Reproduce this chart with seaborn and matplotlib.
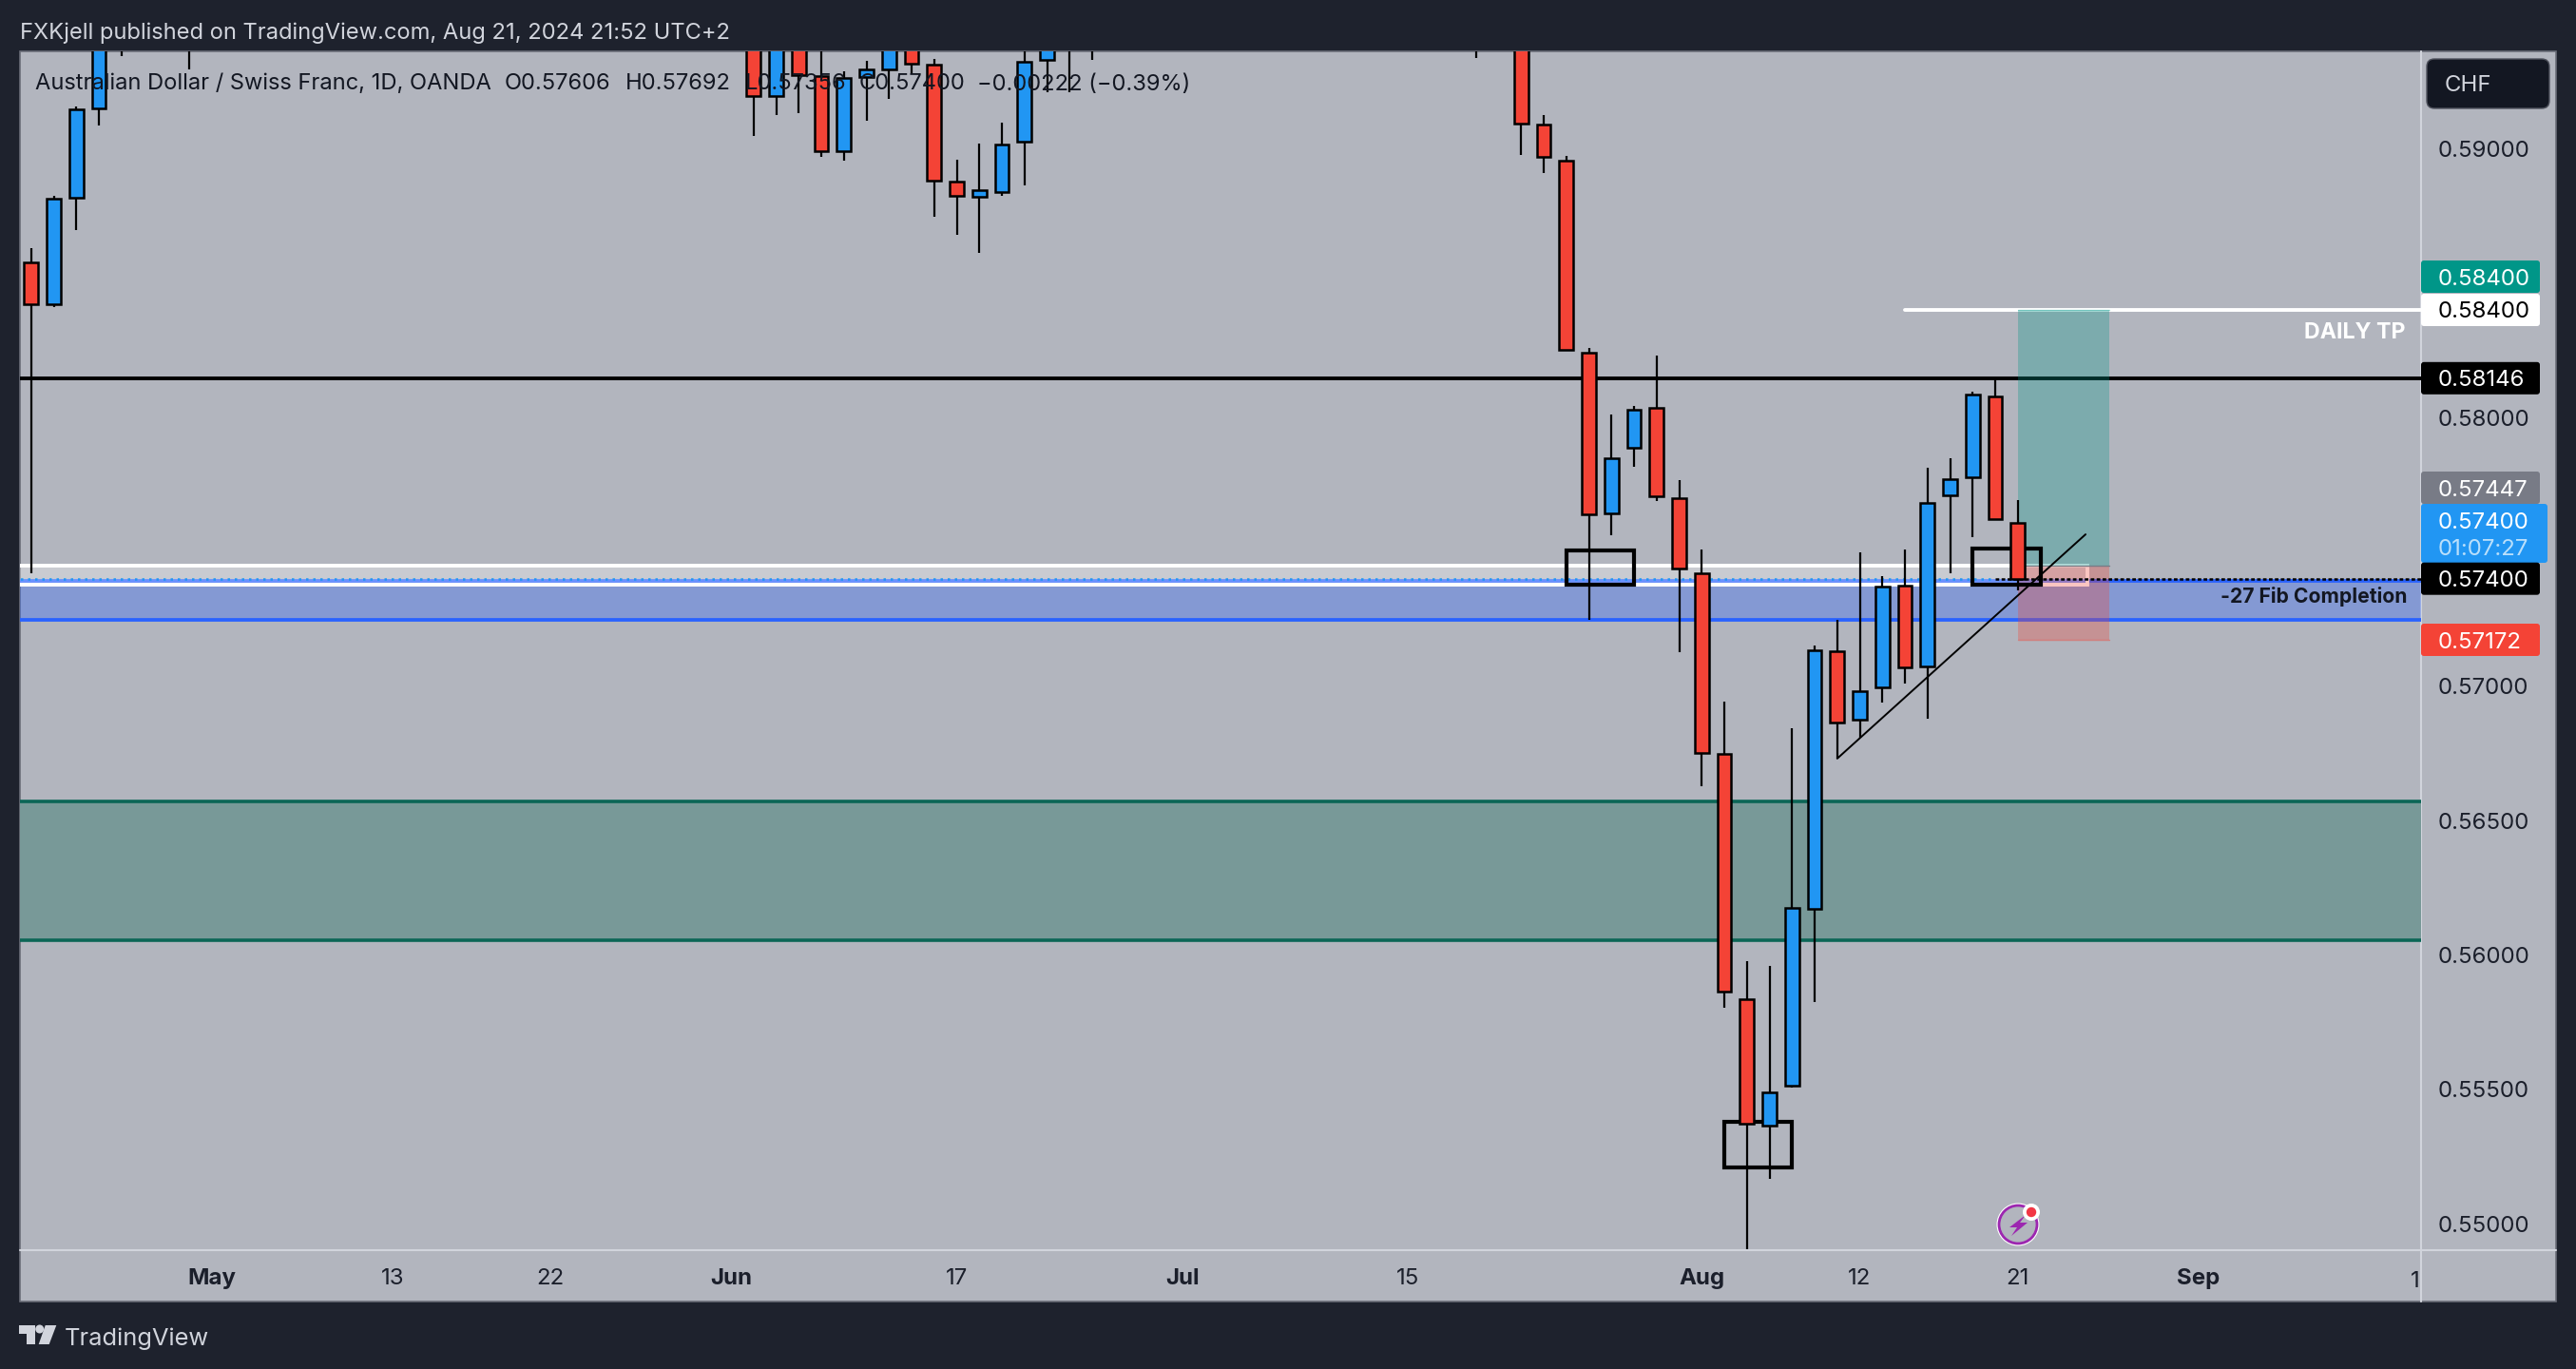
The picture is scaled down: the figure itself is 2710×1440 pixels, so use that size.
import matplotlib
matplotlib.use("Agg")
import matplotlib.pyplot as plt
from matplotlib.patches import Rectangle, FancyBboxPatch, Circle, Polygon
import pandas as pd
import seaborn as sns

# ---- data (bar offset from 21 Aug 2024, then OHLC) ----
bar_index = [-88, -87, -86, -85, -84, -81,
             -56, -55, -54, -53, -52, -51, -50, -49, -48, -47, -46, -45, -44, -43, -42, -41,
             -24, -22, -21, -20, -19, -18, -17, -16, -15, -14, -13, -12, -11, -10, -9, -8,
             -7, -6, -5, -4, -3, -2, -1, 0]
opens = [.58577, .58421, .58817, .59150, .59550, .59550,
         .59450, .59196, .59450, .59270, .58991, .59267, .59295, .59450, .59313, .58877, .58821, .58839, .59026, .59330, .59480, .59480,
         .59550, .59450, .59090, .58955, .58241, .57643, .57887, .58036, .57700, .57420, .56748, .55836, .55365, .55514, .56172, .57130,
         .56876, .56996, .57374, .57074, .57710, .57777, .58078, .57606]
highs = [.58630, .58824, .59157, .59500, .59700, .59700,
         .59500, .59500, .59500, .59450, .59288, .59327, .59500, .59500, .59334, .58959, .59019, .59097, .59450, .59500, .59600, .59600,
         .59700, .59500, .59125, .58973, .58259, .58011, .58043, .58230, .57767, .57509, .56943, .55977, .55960, .56844, .57151, .57247,
         .57498, .57410, .57509, .57813, .57848, .58096, .58146, .57692]
lows = [.57420, .58411, .58697, .59086, .59344, .59295,
        .59047, .59125, .59132, .58969, .58955, .59104, .59185, .59281, .58747, .58679, .58612, .58824, .58863, .59210, .59210, .59330,
        .59337, .58977, .58911, .58248, .57247, .57562, .57816, .57689, .57127, .56628, .55804, .54906, .55167, .55507, .55825, .56731,
        .56808, .56939, .57010, .56879, .57420, .57555, .57620, .57356]
closes = [.58421, .58814, .59146, .59450, .59600, .59600,
          .59196, .59450, .59274, .58991, .59263, .59295, .59450, .59316, .58881, .58824, .58846, .59015, .59323, .59450, .59520, .59520,
          .59600, .59093, .58969, .58251, .57640, .57848, .58029, .57707, .57438, .56752, .55864, .55372, .55489, .56175, .57134, .56865,
          .56982, .57371, .57070, .57682, .57770, .58085, .57622, .57400]

price_ticks = [0.59, 0.58, 0.57, 0.565, 0.56, 0.555, 0.55]
date_ticks = [-80, -72, -65, -57, -47, -37, -27, -14, -7, 0, 8]
date_labels = ["May", "13", "22", "Jun", "17", "Jul", "15", "Aug", "12", "21", "Sep"]
bold_dates = ["May", "Jun", "Jul", "Aug", "Sep"]

tp_price, sl_price, entry_price = 0.58400, 0.57172, 0.57447
level_black = 0.58146
last_price = 0.57400
white_box = (0.57378, 0.57449)
blue_zone = (0.57248, 0.57392)
green_zone = (0.56055, 0.56571)
boxes = [(-20, -17, 0.57378, 0.57505), (-2, 1, 0.57378, 0.57512), (-13, -10, 0.5521, 0.55379)]
trend_x = [-8, 3]
trend_y = [0.56731, 0.57565]

legend_parts = ["Australian Dollar / Swiss Franc, 1D, OANDA", "O0.57606", "H0.57692", "L0.57356", "C0.57400",
                "\u22120.00222 (\u22120.39%)"]
header = "FXKjell published on TradingView.com, Aug 21, 2024 21:52 UTC+2"

# ---- colours ----
DARK = "#1e222d"; PANEL = "#b2b5be"; INK = "#131722"; LIGHT = "#d1d4dc"
UP = "#2196f3"; DOWN = "#f44336"; TEAL = "#009688"; ZONE_BLUE = "#2962ff"

sns.set_theme(style="white")
plt.rcParams["font.family"] = ["Inter", "DejaVu Sans"]

W, H = 2710, 1440
fig = plt.figure(figsize=(W / 100, H / 100), dpi=100, facecolor=DARK)


def px_axes(z):
    a = fig.add_axes([0, 0, 1, 1], zorder=z)
    a.set_xlim(0, W); a.set_ylim(H, 0); a.axis("off"); a.patch.set_visible(False)
    return a


# background layer: panel and separators
bg = px_axes(0)
bg.add_patch(Rectangle((21, 54), 2689 - 21, 1369 - 54, fc=PANEL, ec="#6a6d78", lw=1.2))
bg.plot([21, 2689], [1315, 1315], color=LIGHT, lw=1.5)
bg.plot([2547, 2547], [54, 1369], color=LIGHT, lw=1.5)

# main chart axes
L, R, T, B = 21, 2547, 54, 1315
ax = fig.add_axes([L / W, 1 - B / H, (R - L) / W, (B - T) / H], zorder=1)
ax.patch.set_visible(False)

df = pd.DataFrame({"i": bar_index, "o": opens, "h": highs, "l": lows, "c": closes}).sort_values("i")
df["low_body"] = df[["o", "c"]].min(axis=1)
df["height"] = (df["c"] - df["o"]).abs()

ax.vlines(df["i"], df["l"], df["h"], color="black", lw=1.6, zorder=4)
for sub, col in ((df[df.c >= df.o], UP), (df[df.c < df.o], DOWN)):
    sns.barplot(data=sub, x="i", y="height", bottom=sub["low_body"].values, native_scale=True,
                color=col, saturation=1, errorbar=None, width=0.62, edgecolor="black",
                linewidth=1.8, zorder=5, ax=ax)

# zones
ax.axhspan(*green_zone, fc="#789998", ec="none", zorder=1)
for v in green_zone:
    ax.axhline(v, color="#0b6656", lw=2.6, zorder=1.5)
ax.axhspan(*blue_zone, fc=ZONE_BLUE, alpha=0.33, ec="none", zorder=1)
for v in blue_zone:
    ax.axhline(v, color=ZONE_BLUE, lw=2.7, zorder=1.5)
ax.axhline(level_black, color="black", lw=2.8, zorder=2)
ax.plot([-5, 18], [tp_price, tp_price], color="white", lw=2.8, solid_capstyle="round", zorder=2)

# white level box
ax.add_patch(Rectangle((-90, white_box[0]), 3.1 + 90, white_box[1] - white_box[0], fc=(1, 1, 1, 0.3),
                       ec="white", lw=2.8, zorder=2))

# long position
ax.add_patch(Rectangle((0, entry_price), 4.05, tp_price - entry_price, fc=TEAL, alpha=0.3, ec="none", zorder=2.5))
ax.add_patch(Rectangle((0, sl_price), 4.05, entry_price - sl_price, fc=DOWN, alpha=0.3, ec="none", zorder=2.5))
ax.plot([0, 4.05], [tp_price, tp_price], color=TEAL, alpha=0.35, lw=1, zorder=2.6)
ax.plot([0, 4.05], [sl_price, sl_price], color=DOWN, alpha=0.45, lw=1, zorder=2.6)
ax.plot([0, 4.05], [entry_price, entry_price], color="#787b86", lw=1, zorder=2.6)

# last-price dotted lines
ax.plot([-90, -1], [last_price, last_price], color=UP, lw=1.8, ls=(0, (1, 2)), zorder=2.8)
ax.plot([-1, 18], [last_price, last_price], color="black", lw=1.8, ls=(0, (1.5, 1)), zorder=3.5)

# rectangles and trend line
for x0, x1, y0, y1 in boxes:
    ax.add_patch(Rectangle((x0, y0), x1 - x0, y1 - y0, fc="none", ec="black", lw=3.0, zorder=3))
ax.plot(trend_x, trend_y, color="black", lw=1.4, zorder=6)

ax.set_xlim((L - 2122.8) / 23.75, (R - 2122.8) / 23.75)
ax.set_ylim(0.54902, 0.59362)
for s in ax.spines.values():
    s.set_visible(False)
ax.set_xlabel(""); ax.set_ylabel("")
ax.set_xticks(date_ticks); ax.set_xticklabels(date_labels)
ax.yaxis.tick_right()
ax.set_yticks(price_ticks); ax.set_yticklabels([f"{v:.5f}" for v in price_ticks])
ax.tick_params(axis="y", length=0, pad=13, labelsize=17.3, labelcolor="#1b1f2b")
ax.tick_params(axis="x", length=0, pad=14, labelsize=17.3, labelcolor="#1b1f2b")
for t in ax.get_xticklabels():
    if t.get_text() in bold_dates:
        t.set_fontweight("bold")

# overlay: texts and price tags
ov = px_axes(10)


def ypx(p):
    return 326 + (0.584 - p) * 28270


def tag(cy, color, text, tc="white", x1=2672, h=34):
    ov.add_patch(FancyBboxPatch((2547, cy - h / 2), x1 - 2547, h, boxstyle="round,pad=0,rounding_size=3",
                                fc=color, ec="none"))
    ov.text(2565, cy, text, color=tc, fontsize=17.3, va="center_baseline", ha="left")


tag(291, TEAL, f"{tp_price:.5f}")
tag(ypx(tp_price), "white", f"{tp_price:.5f}", tc="black")
tag(ypx(level_black), "black", f"{level_black:.5f}")
tag(513, "#787b86", f"{entry_price:.5f}")
ov.add_patch(FancyBboxPatch((2547, 530), 2680 - 2547, 62, boxstyle="round,pad=0,rounding_size=3", fc=UP, ec="none"))
ov.text(2565, 547, f"{last_price:.5f}", color="white", fontsize=17.3, va="center_baseline")
ov.text(2565, 575, "01:07:27", color="#b9dffb", fontsize=17.3, va="center_baseline")
tag(ypx(last_price), "black", f"{last_price:.5f}")
tag(673, DOWN, f"{sl_price:.5f}")

ov.text(2531, 347, "DAILY TP", color="white", fontsize=16.7, fontweight="bold", ha="right", va="center_baseline")
ov.text(2532, 626, "-27 Fib Completion", color=INK, fontsize=15.2, fontweight="bold", ha="right", va="center_baseline")

ov.text(21, 32, header, color=LIGHT, fontsize=17.05, va="center_baseline")
for x, s in zip([37, 531, 658, 784, 904, 1028], legend_parts):
    ov.text(x, 86, s, color=INK, fontsize=17.05, va="center_baseline")

ov.add_patch(FancyBboxPatch((2553, 62), 129, 52, boxstyle="round,pad=0,rounding_size=8", fc=INK, ec="#50535e", lw=1))
ov.text(2572, 87, "CHF", color=LIGHT, fontsize=17.3, va="center_baseline")

ov.text(2546, 1345, "1", color="#1b1f2b", fontsize=17.3, ha="right", va="center_baseline")

# TradingView logo and text
ov.add_patch(Polygon([(20, 1394), (37, 1394), (37, 1414), (28, 1414), (28, 1403), (20, 1403)], fc=LIGHT, ec="none"))
ov.add_patch(Circle((41.7, 1398), 4.5, fc=LIGHT, ec="none"))
ov.add_patch(Polygon([(47.7, 1394), (59.3, 1394), (51.7, 1414), (40.7, 1414)], fc=LIGHT, ec="none"))
ov.text(68, 1406, "TradingView", color=LIGHT, fontsize=18.3, va="center_baseline")

# lightning badge
ov.add_patch(Circle((2123, 1288), 22.5, fc="white", ec="none"))
ov.add_patch(Circle((2123, 1288), 20, fc=PANEL, ec="#9c27b0", lw=2))
ov.add_patch(Polygon([(2131, 1278), (2114, 1291), (2122, 1291), (2116, 1300), (2133, 1286), (2125, 1286)],
                     fc="#9c27b0", ec="none"))
ov.add_patch(Circle((2137, 1275), 9, fc="white", ec="none"))
ov.add_patch(Circle((2137, 1275), 5.2, fc="#f23645", ec="none"))

fig.savefig("out.png", dpi=100, facecolor=DARK)
